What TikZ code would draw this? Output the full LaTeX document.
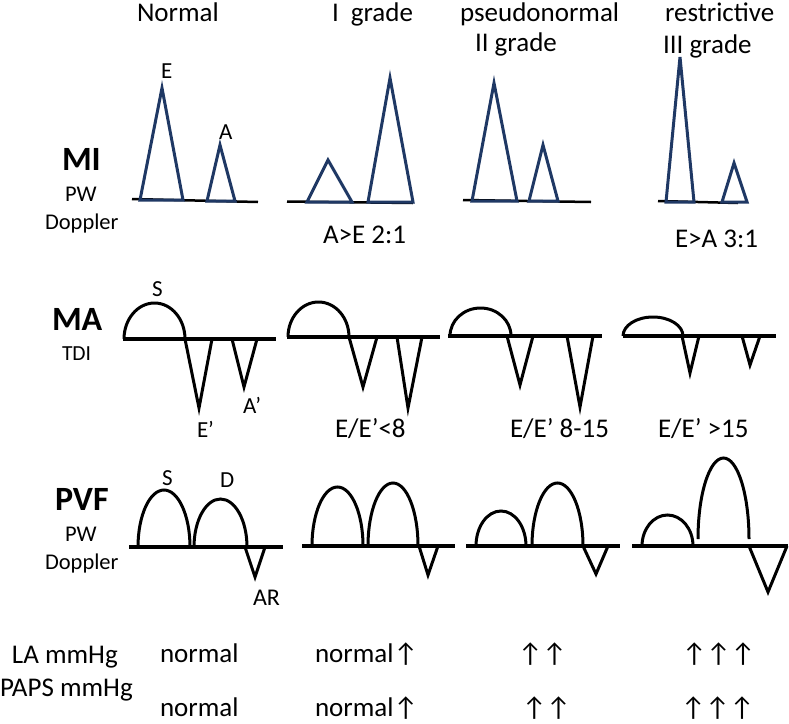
\documentclass[tikz,border=0pt]{standalone}
\usepackage{fontspec}
\setmainfont{Carlito}
\definecolor{navy}{HTML}{1F3864}
\newcommand\archup[4]{\draw[wave] (#1,#2) arc[start angle=180,end angle=360,x radius=#3,y radius=#4];}
\begin{document}
\begin{tikzpicture}[x=1pt,y=-1pt,
  txt/.style={anchor=base west,inner sep=0pt,outer sep=0pt,font=\fontsize{27}{32}\selectfont},
  side/.style={txt,font=\fontsize{22.5}{27}\selectfont},
  ttl/.style={txt,font=\fontsize{34}{40}\selectfont\bfseries},
  lbl/.style={txt,font=\fontsize{23}{27}\selectfont},
  mibase/.style={line width=2.5pt,black},
  mitri/.style={line width=3pt,navy},
  axis/.style={line width=4.5pt,black},
  wave/.style={line width=3pt,black}]
\useasboundingbox (0,0) rectangle (789,723);

% ---------- headers ----------
\node[txt] (hN) at (137,21) {Normal};
\node[txt] (hI) at (332,21) {I\hspace{12pt}grade};
\node[txt] (hIIa) at (460,21.5) {pseudonormal};
\node[txt] (hIIb) at (475,51) {II grade};
\node[txt] (hIIIa) at (665,21.5) {restrictive};
\node[txt] (hIIIb) at (663,53) {III grade};

% ---------- MI row ----------
\node[ttl] (tMI) at (62,170) {MI};
\node[side] (tMIa) at (65,201) {PW};
\node[side] (tMIb) at (45,229) {Doppler};

\draw[mibase] (132,199) -- (258,202);
\draw[mibase] (287,201.5) -- (413,203);
\draw[mibase] (463,200) -- (591,202);
\draw[mibase] (658,201) -- (738,203);

\draw[mitri] (140,200) -- (162,88) -- (183,200) -- cycle;
\draw[mitri] (207,201) -- (220,145) -- (235,201) -- cycle;
\draw[mitri] (307,202) -- (328,160) -- (352,202) -- cycle;
\draw[mitri] (368,202) -- (390,78) -- (413,202) -- cycle;
\draw[mitri] (472,201) -- (494,83) -- (517,201) -- cycle;
\draw[mitri] (529,201) -- (543,145) -- (558,201) -- cycle;
\draw[mitri] (666,202) -- (680,57) -- (694,202) -- cycle;
\draw[mitri] (722,202) -- (734,163) -- (747,202) -- cycle;

\node[lbl] (lE) at (161,78) {E};
\node[lbl] (lA) at (219,139) {A};
\node[txt] (rI) at (323,243) {A>E 2:1};
\node[txt] (rIII) at (675,247) {E>A 3:1};

% ---------- MA row ----------
\node[ttl] (tMA) at (52,330) {MA};
\node[side,font=\fontsize{21.5}{25}\selectfont] (tMAa) at (62,360) {TDI};

\draw[axis] (123,339) -- (276,339);
\draw[axis] (287,337) -- (440,337);
\draw[axis] (448,336) -- (602,336);
\draw[axis] (623,336) -- (776,336);

\archup{124}{339}{30.5}{36}
\draw[wave] (185,339) -- (199,408) -- (212,339);
\draw[wave] (232,339) -- (244,387) -- (257,339);

\archup{288}{337}{30.5}{35}
\draw[wave] (349,337) -- (363,387) -- (377,337);
\draw[wave] (397,337) -- (408,408) -- (422,337);

\archup{450}{336}{30.5}{28}
\draw[wave] (507,336) -- (520,385) -- (533,336);
\draw[wave] (567,336) -- (580,407) -- (593,336);

\archup{623}{336}{30}{19}
\draw[wave] (682,336) -- (690,373) -- (699,336);
\draw[wave] (742,336) -- (750,365) -- (760,336);

\node[lbl] (lS1) at (152,296) {S};
\node[lbl] (lEp) at (197,437) {E’};
\node[lbl] (lAp) at (243,413) {A’};
\node[txt] (rEE1) at (335,437) {E/E’<8};
\node[txt] (rEE2) at (510,437) {E/E’ 8-15};
\node[txt] (rEE3) at (658,437) {E/E’ >15};

% ---------- PVF row ----------
\node[ttl] (tPVF) at (55,510) {PVF};
\node[side] (tPVFa) at (65,541) {PW};
\node[side] (tPVFb) at (45,569) {Doppler};

\draw[axis] (129,547) -- (283,547);
\draw[axis] (302,546) -- (455,546);
\draw[axis] (466,546) -- (620,546);
\draw[axis] (632,546) -- (788,546);

\archup{138}{547}{26}{57}
\archup{194}{547}{26.5}{48}
\draw[wave] (245,547) -- (255,577) -- (265,547);

\archup{312}{546}{25.5}{59}
\archup{368}{546}{25}{63}
\draw[wave] (419,546) -- (428,575) -- (438,546);

\archup{476}{546}{25}{35}
\archup{532}{546}{25.5}{63}
\draw[wave] (583,546) -- (596,574) -- (608,546);

\archup{642}{546}{25.5}{31}
\archup{698}{539}{25.5}{81}
\draw[wave] (749,546) -- (768,592) -- (787,546);

\node[lbl] (lS2) at (162,485) {S};
\node[lbl] (lD) at (220,487) {D};
\node[lbl,font=\fontsize{24}{28}\selectfont] (lAR) at (253,605) {AR};

% ---------- bottom rows ----------
\node[txt] (bLA) at (12,663) {LA mmHg};
\node[txt] (bPA) at (0,696) {PAPS mmHg};
\node[txt] (b11) at (160,662) {normal};
\node[txt] (b12) at (315,662) {normal↑};
\node[txt] (b13) at (518,662) {↑↑};
\node[txt] (b14) at (682,662) {↑↑↑};
\node[txt] (b21) at (160,716) {normal};
\node[txt] (b22) at (315,716) {normal↑};
\node[txt] (b23) at (522,716) {↑↑};
\node[txt] (b24) at (681,716) {↑↑↑};
\end{tikzpicture}
\end{document}
